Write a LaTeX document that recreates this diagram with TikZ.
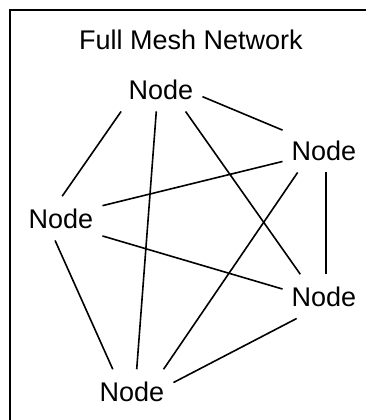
\documentclass[tikz,border=0pt]{standalone}
\usepackage{fontspec}
\setmainfont{Liberation Sans}
\usepackage{tikz}

\tikzset{
  nd/.style={inner xsep=9pt,inner ysep=12pt,anchor=base,font=\fontsize{27}{32}\selectfont},
  link/.style={line width=1.6pt}
}

\begin{document}
\begin{tikzpicture}[x=1pt,y=-1pt]
\useasboundingbox (0,0) rectangle (366,420);
\draw[line width=1.8pt] (10,420) -- (10,10) -- (366,10);
\node[nd,inner sep=0pt] (title) at (191,50) {Full Mesh Network};
\node[nd] (n0) at (161,99) {Node};
\node[nd] (n1) at (324,160) {Node};
\node[nd] (n2) at (61,228) {Node};
\node[nd] (n3) at (324,306) {Node};
\node[nd] (n4) at (132,401) {Node};
\foreach \a/\b in {n0.209/n2.87, n0.258/n4.78, n0.318/n3.137, n0.350/n1.154,
                   n2.17/n1.195, n2.337/n3.170, n2.255/n4.131,
                   n1.220/n4.35, n1.275/n3.85, n3.219/n4.12}
  \draw[link] (\a) -- (\b);
\end{tikzpicture}
\end{document}
